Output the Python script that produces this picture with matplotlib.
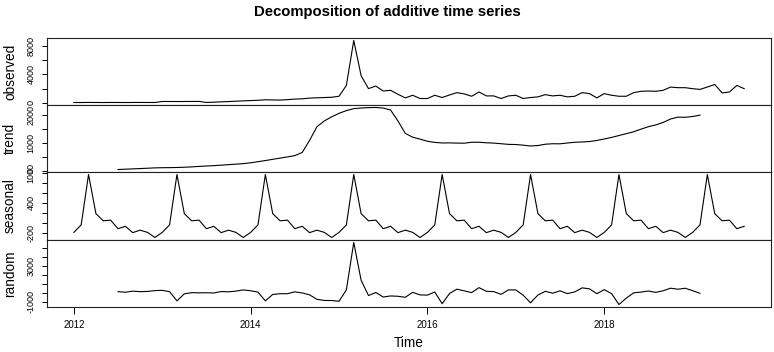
import numpy as np
import matplotlib
matplotlib.use("Agg")
import matplotlib.pyplot as plt

# ---- data (monthly, starting Jan 2012) ----
start_year = 2012
frequency = 12
observed = [
    40, 35, 45, 40, 35, 40, 40, 35, 40, 45, 40, 40,
    180, 180, 175, 180, 185, 190,
    45, 80, 130, 170, 220, 270,
    310, 350, 420, 400, 380, 440,
    520, 560, 660, 700, 740, 780,
    920, 2450, 8800, 3830, 2000, 2360,
    1660, 1760, 1200, 690, 1060, 600,
    600, 1060, 740, 1100, 1430, 1250,
    920, 1520, 970, 970, 600, 970,
    1060, 600, 740, 830, 1150, 970,
    1060, 830, 920, 1430, 1290, 690,
    1290, 1060, 920, 920, 1430, 1620,
    1660, 1620, 1760, 2220, 2130, 2130,
    1990, 1890, 2220, 2590, 1390, 1520,
    2450, 1990,
]
panel_names = ["observed", "trend", "seasonal", "random"]
x_tick_years = [2012, 2014, 2016, 2018]
title = "Decomposition of additive time series"

# ---- classical additive decomposition (as R's decompose) ----
x = np.asarray(observed, dtype=float)
n = len(x)
f = frequency
w = np.r_[0.5, np.ones(f - 1), 0.5] / f
trend = np.full(n, np.nan)
half = f // 2
for i in range(half, n - half):
    trend[i] = np.dot(w, x[i - half:i + half + 1])
season = x - trend
idx = np.arange(0, n, f)
figure = np.zeros(f)
for i in range(f):
    pos = idx + i
    pos = pos[pos < n]
    figure[i] = np.nanmean(season[pos])
figure -= figure.mean()
seasonal = np.tile(figure, n // f + 1)[:n]
random = x - seasonal - trend
time = start_year + np.arange(n) / f
series = [x, trend, seasonal, random]


def r_pretty(lo, hi, nint=5, h=0.8, h5=1.7):
    # R's GEPretty (axis tick positions)
    cell = (hi - lo) / nint
    U = 10 ** np.floor(np.log10(cell))
    unit = U
    if 2 * U - cell < h * (cell - unit):
        unit = 2 * U
        if 5 * U - cell < h5 * (cell - unit):
            unit = 5 * U
            if 10 * U - cell < h * (cell - unit):
                unit = 10 * U
    ns = np.floor(lo / unit + 1e-7)
    nu = np.ceil(hi / unit - 1e-7)
    t = np.arange(ns, nu + 1) * unit
    return t[(t >= lo - 1e-9) & (t <= hi + 1e-9)]


plt.rcParams["font.family"] = ["Liberation Sans", "DejaVu Sans"]
W, H = 774, 352
fig = plt.figure(figsize=(W / 100, H / 100), dpi=100)

left, right = 47 / W, 771 / W
tops = [38, 105, 172, 240]
bots = [105, 172, 240, 307]
xr = time[-1] - time[0]
xlim = (time[0] - 0.04 * xr, time[-1] + 0.04 * xr)

axes = []
for k, (name, s) in enumerate(zip(panel_names, series)):
    b = 1 - bots[k] / H
    hgt = (bots[k] - tops[k]) / H
    ax = fig.add_axes([left, b, right - left, hgt])
    ax.plot(time, s, color="black", lw=0.8)
    lo, hi = np.nanmin(s), np.nanmax(s)
    r = hi - lo
    ylo, yhi = lo - 0.04 * r, hi + 0.04 * r
    ax.set_ylim(ylo, yhi)
    ax.set_xlim(*xlim)
    yt = r_pretty(ylo, yhi)
    ax.set_yticks(yt)
    ax.set_yticklabels(["%d" % v for v in yt], rotation=90, va="center",
                       fontsize=6.5)
    for lab in ax.get_yticklabels():
        lab.set_clip_on(False)
    ax.tick_params(axis="y", direction="out", length=3.6, width=0.7, pad=4.8,
                   colors="black")
    for sp in ax.spines.values():
        sp.set_linewidth(0.8)
        sp.set_color("#222222")
    if k < 3:
        ax.set_xticks([])
    else:
        ax.set_xticks(x_tick_years)
        ax.set_xticklabels([str(v) for v in x_tick_years], fontsize=7)
        ax.tick_params(axis="x", direction="out", length=5, width=0.7, pad=4.5)
    fig.text(10 / W, 1 - (tops[k] + bots[k]) / 2 / H, name, rotation=90,
             ha="center", va="center", fontsize=9.8)
    axes.append(ax)

fig.text(0.5, 1 - 12 / H, title, ha="center", va="center", fontsize=10.7,
         fontweight="bold")
fig.text((left + right) / 2, 1 - 343 / H, "Time", ha="center", va="center",
         fontsize=9.8)

# R-style skipping of overlapping axis labels
fig.canvas.draw()
renderer = fig.canvas.get_renderer()
mtxt = fig.text(0, 0, "m", fontsize=6.5)
gap = mtxt.get_window_extent(renderer).width
mtxt.remove()
for ax in axes:
    labs = ax.get_yticklabels()
    last = None
    for lab in labs:
        bb = lab.get_window_extent(renderer)
        if last is None or bb.y0 >= last + gap:
            last = bb.y1
        else:
            lab.set_visible(False)

fig.savefig("out.png", dpi=100)
